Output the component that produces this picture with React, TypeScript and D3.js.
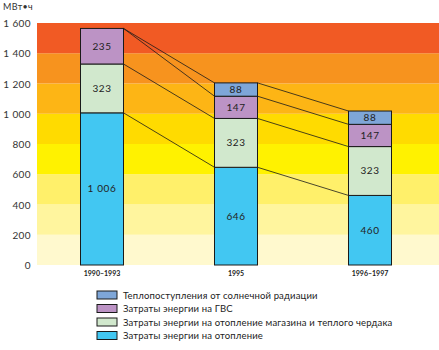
import React from "react";
import * as d3 from "d3";

const categories = ["1990–1993", "1995", "1996–1997"];
const heating = [1006, 646, 460];
const storeAttic = [323, 323, 323];
const hotWater = [235, 147, 147];
const solar = [0, 88, 88];
const yTicks = [0, 200, 400, 600, 800, 1000, 1200, 1400, 1600];
const bandColors = ["#FFF9CE", "#FFF59E", "#FFF06A", "#FFF200", "#FFDB00", "#FDB515", "#F7931E", "#F15A24"];
const seriesNames = [
  "Теплопоступления от солнечной радиации",
  "Затраты энергии на ГВС",
  "Затраты энергии на отопление магазина и теплого чердака",
  "Затраты энергии на отопление",
];
const seriesColors = ["#7EA6D8", "#BC93C5", "#D1E8CD", "#42C7F2"];

export default function App() {
  const W = 439, H = 350;
  const plotL = 37, plotR = 439;
  const y = d3.scaleLinear().domain([0, 1600]).range([265, 23]);
  const x = d3.scalePoint<string>().domain(categories).range([35, 437]).padding(0.5);
  const bw = 43;
  const series = [heating, storeAttic, hotWater, solar];
  const stacks = categories.map((c, i) => {
    let acc = 0;
    return series.map((s, k) => {
      const y0 = acc;
      acc += s[i];
      return { k, y0, y1: acc, v: s[i] };
    });
  });
  const font = "Lato, 'Open Sans', sans-serif";
  const fmt = (v: number) => d3.format(",")(v).replace(",", " ");
  const lines: JSX.Element[] = [];
  for (let i = 0; i < categories.length - 1; i++) {
    const xa = (x(categories[i]) as number) + bw / 2;
    const xb = (x(categories[i + 1]) as number) - bw / 2;
    const a = stacks[i], b = stacks[i + 1];
    for (let k = 0; k < 4; k++) {
      lines.push(
        <line key={`l${i}-${k}`} x1={xa} y1={y(a[k].y1)} x2={xb} y2={y(b[k].y1)} stroke="#1a1a1a" strokeWidth={0.8} />
      );
    }
  }
  return (
    <svg width={W} height={H} style={{ position: "absolute", left: 0, top: 0 }} fontFamily={font}>
      <rect x={0} y={0} width={W} height={H} fill="#fff" />
      {bandColors.map((c, i) => (
        <rect key={c + i} x={plotL} width={plotR - plotL} y={y(yTicks[i + 1])} height={y(yTicks[i]) - y(yTicks[i + 1])} fill={c} />
      ))}
      <text x={3} y={10} fontSize={9} fill="#333" letterSpacing={0.3}>МВт•ч</text>
      {yTicks.map((t) => (
        <text key={t} x={31} y={y(t) + 4} fontSize={10} textAnchor="end" fill="#333" letterSpacing={0.4}>
          {fmt(t)}
        </text>
      ))}
      {lines}
      {categories.map((c, i) => (
        <g key={c}>
          {stacks[i].filter((s) => s.v > 0).map((s) => (
            <g key={s.k}>
              <rect x={(x(c) as number) - bw / 2} width={bw} y={y(s.y1)} height={y(s.y0) - y(s.y1)}
                fill={seriesColors[3 - s.k]} stroke="#1a1a1a" strokeWidth={1} />
              <text x={x(c)} y={(y(s.y0) + y(s.y1)) / 2 + 3.5} fontSize={10} textAnchor="middle" fill="#222" letterSpacing={0.6}>
                {fmt(s.v)}
              </text>
            </g>
          ))}
          <text x={x(c)} y={276} fontSize={7} fontWeight="bold" textAnchor="middle" fill="#222">{c}</text>
        </g>
      ))}
      {seriesNames.map((n, i) => (
        <g key={n} transform={`translate(97, ${291 + i * 13.5})`}>
          <rect x={0} y={0} width={20} height={8} fill={seriesColors[i]} stroke="#1a1a1a" strokeWidth={1} />
          <text x={26} y={7.8} fontSize={9.5} fill="#222" letterSpacing={0.15}>{n}</text>
        </g>
      ))}
    </svg>
  );
}
